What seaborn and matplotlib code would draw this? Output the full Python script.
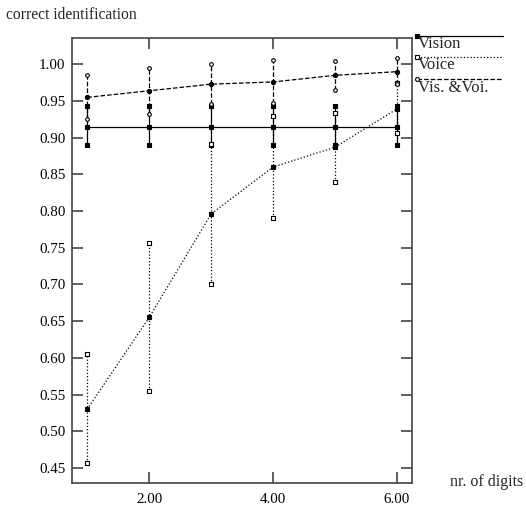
import matplotlib
matplotlib.use("Agg")
import matplotlib.pyplot as plt
import seaborn as sns
import pandas as pd
from matplotlib.lines import Line2D

digits = [1, 2, 3, 4, 5, 6]

vision_mean = [0.915, 0.915, 0.915, 0.915, 0.915, 0.915]
vision_low = [0.890, 0.890, 0.890, 0.890, 0.890, 0.890]
vision_high = [0.943, 0.943, 0.943, 0.943, 0.943, 0.943]

voice_mean = [0.530, 0.655, 0.796, 0.860, 0.887, 0.939]
voice_low = [0.456, 0.555, 0.700, 0.791, 0.839, 0.906]
voice_high = [0.605, 0.756, 0.891, 0.930, 0.934, 0.974]

visvoi_mean = [0.955, 0.964, 0.973, 0.976, 0.985, 0.990]
visvoi_low = [0.925, 0.933, 0.946, 0.948, 0.965, 0.973]
visvoi_high = [0.986, 0.995, 1.001, 1.006, 1.004, 1.009]

series_names = ["Vision", "Voice", "Vis. &Voi."]
yticks = [0.45, 0.50, 0.55, 0.60, 0.65, 0.70, 0.75, 0.80, 0.85, 0.90, 0.95, 1.00]
xticks = [2, 4, 6]

sns.set_theme(style="white")
plt.rcParams["font.family"] = ["Liberation Serif", "DejaVu Serif"]
plt.rcParams["font.size"] = 11

fig = plt.figure(figsize=(5.26, 5.08), dpi=100)
L, R, T, B = 72.3 / 526, 411.7 / 526, 1 - 38.3 / 508, 1 - 483.3 / 508
ax = fig.add_axes([L, B, R - L, T - B])

styles = {
    "Vision": dict(ls="-", marker="s", end_fc="black"),
    "Voice": dict(ls=":", marker="s", end_fc="white"),
    "Vis. &Voi.": dict(ls="--", marker="o", end_fc="white"),
}
data = {
    "Vision": (vision_mean, vision_low, vision_high),
    "Voice": (voice_mean, voice_low, voice_high),
    "Vis. &Voi.": (visvoi_mean, visvoi_low, visvoi_high),
}

for name in series_names:
    m, lo, hi = data[name]
    st = styles[name]
    df = pd.DataFrame({"x": digits, "m": m, "lo": lo, "hi": hi})
    ax.vlines(df["x"], df["lo"], df["hi"], colors="black", linestyles=st["ls"], lw=0.9)
    sns.lineplot(data=df, x="x", y="m", ax=ax, color="black", lw=0.9,
                 linestyle=st["ls"], marker=st["marker"], markersize=3.0,
                 markerfacecolor="black", markeredgecolor="black", markeredgewidth=0.8)
    for col in ["lo", "hi"]:
        sns.scatterplot(data=df, x="x", y=col, ax=ax, marker=st["marker"], s=7,
                        color=st["end_fc"], edgecolor="black", linewidth=0.8, zorder=5)

ax.set_xlim(0.758, 6.242)
ax.set_ylim(0.429, 1.0355)
ax.set_xticks(xticks)
ax.set_xticklabels([f"{v:.2f}" for v in xticks])
ax.set_yticks(yticks)
ax.set_yticklabels([f"{v:.2f}" for v in yticks])
ax.set_xlabel("")
ax.set_ylabel("")
for sp in ax.spines.values():
    sp.set_visible(True)
    sp.set_color("#444444")
    sp.set_linewidth(1.2)
ax.tick_params(axis="both", direction="in", length=8, width=1.2, color="#444444",
               labelsize=10.8, labelcolor="black", pad=5,
               top=True, right=True, bottom=True, left=True)
ax.tick_params(axis="y", labelright=False)
ax.tick_params(axis="x", labeltop=False, pad=7)
ax.grid(False)

fig.text(6.5 / 526, 1 - 15 / 508, "correct identification", ha="left", va="center", fontsize=11.2)
fig.text(450 / 526, 1 - 482 / 508, "nr. of digits", ha="left", va="center", fontsize=11.5)

# legend drawn outside the axes
leg_y = [35.7, 56.7, 79.0]
for name, yy in zip(series_names, leg_y):
    st = styles[name]
    yf = 1 - yy / 508
    fig.add_artist(Line2D([416.7 / 526, 503 / 526], [yf, yf], color="black", lw=0.9,
                          linestyle=st["ls"], transform=fig.transFigure))
    fig.add_artist(Line2D([416.7 / 526], [yf], marker=st["marker"], markersize=2.8,
                          markerfacecolor=st["end_fc"], markeredgecolor="black",
                          markeredgewidth=0.8, transform=fig.transFigure))
    fig.text(417.5 / 526, 1 - (yy + 8.5) / 508, name, ha="left", va="center", fontsize=12)

fig.savefig("out.png", dpi=100)
